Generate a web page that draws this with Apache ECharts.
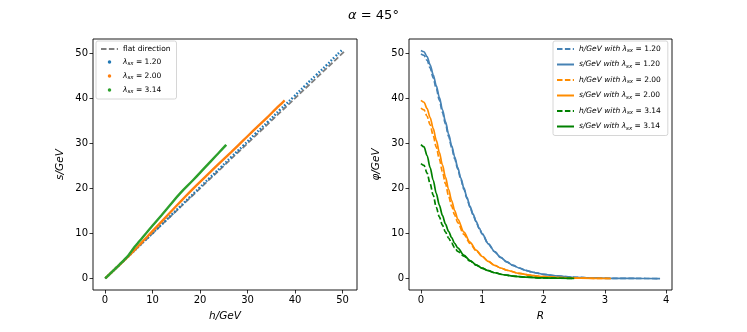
<!DOCTYPE html>
<html>
<head>
<meta charset="utf-8">
<script src="https://cdn.jsdelivr.net/npm/echarts@6/dist/echarts.min.js"></script>
<style>
  html, body { margin: 0; padding: 0; background: #fff; }
  #chart { width: 747px; height: 332px; }
</style>
</head>
<body>
<div id="chart"></div>
<script>
// profiles (R, s/GeV, h/GeV)
var R1 = [0, 0.05, 0.1, 0.15, 0.2, 0.25, 0.3, 0.35, 0.4, 0.45, 0.5, 0.55, 0.6, 0.65, 0.7, 0.75, 0.8, 0.85, 0.9, 0.95, 1.0, 1.1, 1.2, 1.3, 1.4, 1.5, 1.6, 1.7, 1.8, 1.9, 2.0, 2.2, 2.5, 2.8, 3.1, 3.5, 3.9];
var S1 = [50.6, 50.3, 49.2, 47.4, 45.2, 42.8, 40.2, 37.5, 34.8, 32.1, 29.5, 27.0, 24.6, 22.3, 20.1, 18.0, 16.0, 14.3, 12.7, 11.2, 9.9, 7.7, 6.0, 4.7, 3.7, 2.95, 2.35, 1.85, 1.5, 1.2, 0.95, 0.6, 0.3, 0.15, 0.07, 0.03, 0.01];
var H1 = [49.8, 49.5, 48.4, 46.7, 44.5, 42.1, 39.6, 36.9, 34.3, 31.6, 29.1, 26.6, 24.3, 22.0, 19.85, 17.8, 15.85, 14.15, 12.6, 11.1, 9.85, 7.65, 5.97, 4.7, 3.7, 2.95, 2.35, 1.85, 1.5, 1.2, 0.95, 0.6, 0.3, 0.15, 0.07, 0.03, 0.01];

var R2 = [0, 0.05, 0.1, 0.15, 0.2, 0.25, 0.3, 0.35, 0.4, 0.45, 0.5, 0.55, 0.6, 0.7, 0.8, 0.9, 1.0, 1.1, 1.2, 1.3, 1.4, 1.6, 1.8, 2.0, 2.3, 2.6, 3.1];
var S2 = [39.5, 39.1, 37.7, 35.7, 33.3, 30.7, 28.0, 25.2, 22.5, 19.8, 17.3, 15.1, 13.2, 10.3, 8.1, 6.3, 4.9, 3.8, 2.95, 2.35, 1.85, 1.15, 0.7, 0.42, 0.2, 0.09, 0.02];
var H2 = [37.8, 37.4, 36.0, 34.1, 31.7, 29.15, 26.5, 23.7, 21.05, 18.4, 16.1, 14.1, 12.4, 9.8, 7.8, 6.2, 4.9, 3.8, 2.95, 2.35, 1.85, 1.15, 0.7, 0.42, 0.2, 0.09, 0.02];

var R3 = [0, 0.05, 0.1, 0.15, 0.2, 0.25, 0.3, 0.35, 0.4, 0.45, 0.5, 0.55, 0.6, 0.7, 0.8, 0.9, 1.0, 1.1, 1.2, 1.35, 1.5, 1.7, 2.0, 2.25, 2.5];
var S3 = [29.7, 29.2, 27.3, 24.6, 21.8, 18.9, 16.3, 14.0, 12.1, 10.5, 9.1, 7.8, 6.8, 5.2, 4.0, 3.05, 2.3, 1.75, 1.3, 0.85, 0.55, 0.32, 0.15, 0.08, 0.04];
var H3 = [25.5, 25.1, 23.4, 21.0, 18.5, 15.8, 13.7, 11.85, 10.3, 9.0, 7.9, 6.85, 6.05, 4.95, 3.9, 3.0, 2.28, 1.75, 1.3, 0.85, 0.55, 0.32, 0.15, 0.08, 0.04];

var FLAT = [[0, 0], [50.5, 50.5]];
var LAMBDAS = ['1.20', '2.00', '3.14'];
var FIELD_TICKS = [0, 10, 20, 30, 40, 50];
var R_TICKS = [0, 1, 2, 3, 4];

var FONT = 'DejaVu Sans';
var DASH = [5.5, 2.4];

function pairs(a, b) {
    return a.map(function (v, i) { return [v, b[i]]; });
}

var chart = echarts.init(document.getElementById('chart'), null, { renderer: 'canvas' });

function axisBase(ticks, min, max) {
    return {
        type: 'value',
        min: min,
        max: max,
        axisLine: { show: false, onZero: false },
        splitLine: { show: false },
        axisTick: { show: true, length: 3.5, inside: false, customValues: ticks, lineStyle: { color: '#000', width: 0.8 } },
        axisLabel: { customValues: ticks, color: '#000', fontSize: 10, fontFamily: FONT, margin: 5 },
        nameTextStyle: { color: '#000', fontSize: 10.5, fontFamily: FONT, fontStyle: 'italic' }
    };
}

var legendRich = {
    i: { fontStyle: 'italic', fontSize: 7.5, fontFamily: FONT, color: '#000' },
    sub: { fontStyle: 'italic', fontSize: 5.5, fontFamily: FONT, color: '#000', padding: [4, 0, 0, 0] },
    n: { fontSize: 7.5, fontFamily: FONT, color: '#000' }
};

var xL = axisBase(FIELD_TICKS, -2.525, 53.025);
xL.gridIndex = 0; xL.name = 'h/GeV'; xL.nameLocation = 'middle'; xL.nameGap = 21;
var yL = axisBase(FIELD_TICKS, -2.53, 53.13);
yL.gridIndex = 0; yL.name = 's/GeV'; yL.nameLocation = 'middle'; yL.nameGap = 27;
var xR = axisBase(R_TICKS, -0.195, 4.095);
xR.gridIndex = 1; xR.name = 'R'; xR.nameLocation = 'middle'; xR.nameGap = 21;
var yR = axisBase(FIELD_TICKS, -2.53, 53.13);
yR.gridIndex = 1; yR.name = 'φ/GeV'; yR.nameLocation = 'middle'; yR.nameGap = 27;

var scatterColors = ['#1f77b4', '#ff7f0e', '#2ca02c'];
var lineColors = ['#4682b4', '#ff8c00', '#008000'];
var Hs = [H1, H2, H3], Ss = [S1, S2, S3], Rs = [R1, R2, R3];

var series = [{
    name: 'flat', type: 'line', xAxisIndex: 0, yAxisIndex: 0,
    data: FLAT, showSymbol: false, symbol: 'none',
    lineStyle: { color: '#7f7f7f', width: 1.8, type: DASH },
    itemStyle: { color: '#7f7f7f' }, z: 1
}];
for (var k = 0; k < 3; k++) {
    series.push({
        name: 'l' + k, type: 'line', xAxisIndex: 0, yAxisIndex: 0,
        data: pairs(Hs[k], Ss[k]), showSymbol: false, symbol: 'none', smooth: 0.5,
        lineStyle: { color: scatterColors[k], width: 2.4, type: k === 0 ? [1.6, 1.8] : 'solid' },
        itemStyle: { color: scatterColors[k] }, z: 2 + k
    });
}
for (var j = 0; j < 3; j++) {
    series.push({
        name: 'h' + j, type: 'line', xAxisIndex: 1, yAxisIndex: 1,
        data: pairs(Rs[j], Hs[j]), showSymbol: false, symbol: 'none', smooth: 0.3, smoothMonotone: 'x',
        lineStyle: { color: lineColors[j], width: 1.7, type: DASH },
        itemStyle: { color: lineColors[j] }
    });
    series.push({
        name: 's' + j, type: 'line', xAxisIndex: 1, yAxisIndex: 1,
        data: pairs(Rs[j], Ss[j]), showSymbol: false, symbol: 'none', smooth: 0.3, smoothMonotone: 'x',
        lineStyle: { color: lineColors[j], width: 1.7 },
        itemStyle: { color: lineColors[j] }
    });
}

var legendBox = {
    orient: 'vertical',
    backgroundColor: 'rgba(255,255,255,0.8)',
    borderColor: '#cccccc',
    borderWidth: 0.8,
    borderRadius: 2,
    itemWidth: 17,
    itemHeight: 4,
    itemGap: 6,
    selectedMode: false,
    textStyle: { fontSize: 7.5, fontFamily: FONT, color: '#000', rich: legendRich }
};

var legendLeft = Object.assign({}, legendBox, {
    left: 96, top: 41, padding: [4, 6, 4, 4], itemGap: 5, itemHeight: 3.5,
    data: [
        { name: 'flat', itemStyle: { opacity: 0 } },
        { name: 'l0', icon: 'circle' },
        { name: 'l1', icon: 'circle' },
        { name: 'l2', icon: 'circle' }
    ],
    formatter: function (name) {
        if (name === 'flat') return '{n|flat direction}';
        var idx = +name.slice(1);
        return '{i|λ}{sub|sx}{n| = ' + LAMBDAS[idx] + '}';
    }
});

var legendRight = Object.assign({}, legendBox, {
    left: 553, top: 41, padding: [4, 7, 4, 3], itemGap: 6.5,
    itemStyle: { opacity: 0 },
    data: ['h0', 's0', 'h1', 's1', 'h2', 's2'],
    formatter: function (name) {
        var idx = +name.slice(1);
        return '{i|' + name[0] + '/GeV with λ}{sub|sx}{n| = ' + LAMBDAS[idx] + '}';
    }
});

chart.setOption({
    animation: false,
    backgroundColor: '#fff',
    title: {
        text: '{a|α} = 45°',
        left: 'center',
        top: 4,
        textStyle: {
            fontSize: 13, fontFamily: FONT, color: '#000', fontWeight: 'normal',
            rich: { a: { fontSize: 13, fontFamily: FONT, fontStyle: 'italic', color: '#000' } }
        }
    },
    grid: [
        { left: 93, top: 39, width: 264, height: 251, show: true, borderColor: '#000', borderWidth: 0.9, backgroundColor: 'transparent', containLabel: false },
        { left: 409, top: 39, width: 263, height: 251, show: true, borderColor: '#000', borderWidth: 0.9, backgroundColor: 'transparent', containLabel: false }
    ],
    xAxis: [xL, xR],
    yAxis: [yL, yR],
    legend: [legendLeft, legendRight],
    series: series
});
</script>
</body>
</html>
